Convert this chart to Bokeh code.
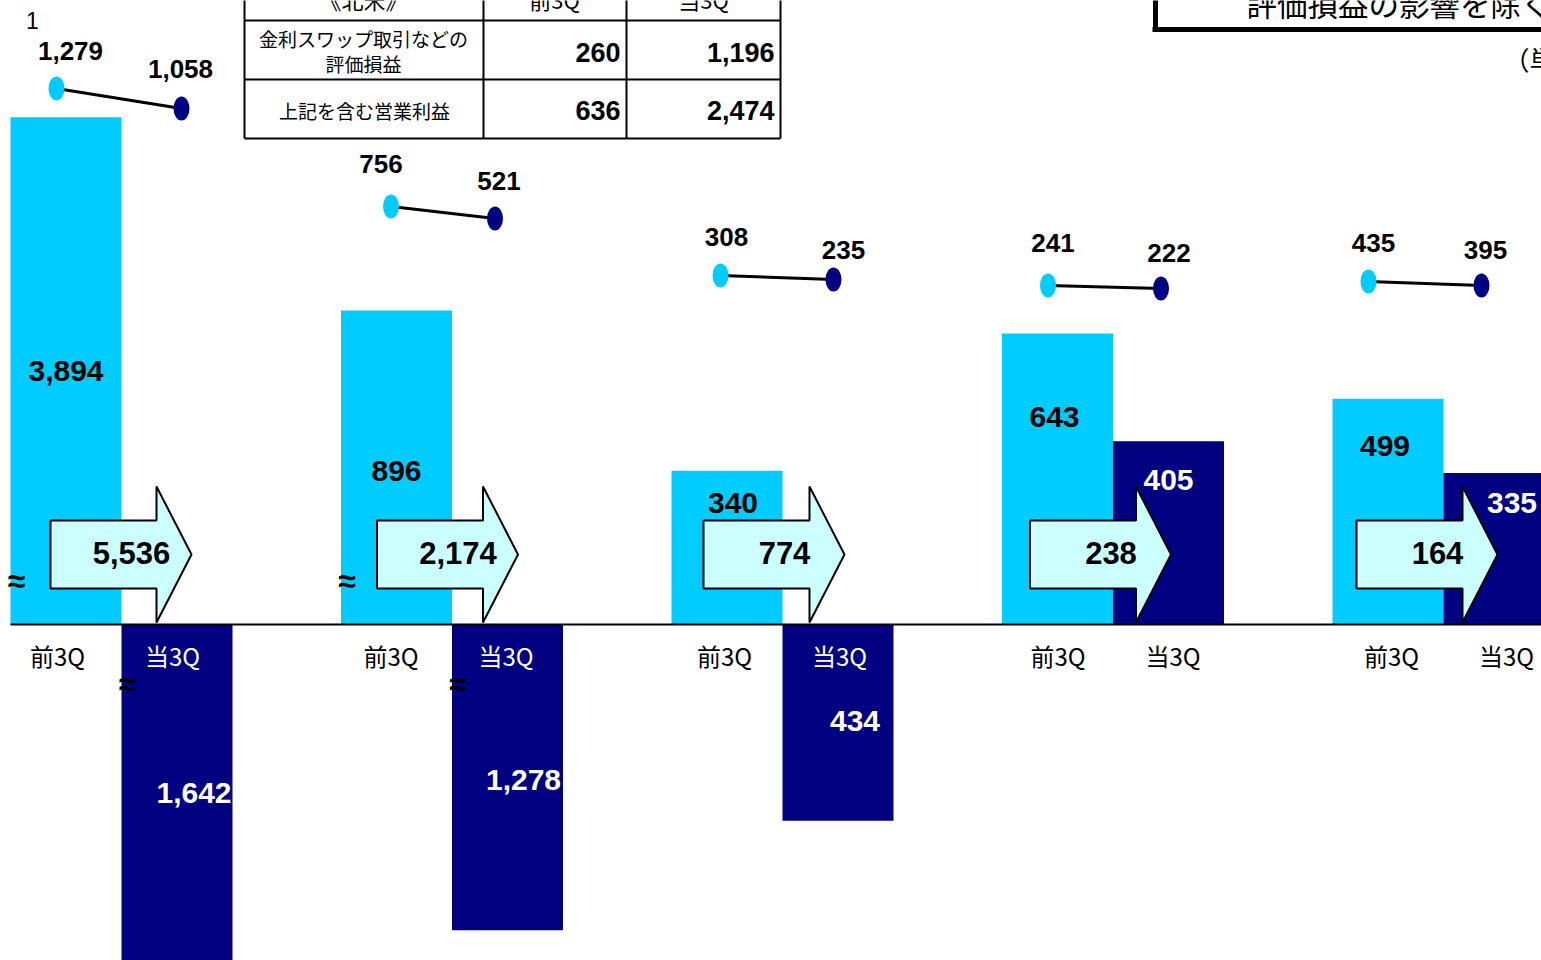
from bokeh.plotting import figure
from bokeh.models import Range1d
from bokeh.core.properties import value
from bokeh.embed import file_html
from bokeh.resources import INLINE

# ---------------- data ----------------
period_labels = ["前3Q", "当3Q"]
prev_3q = [3894, 896, 340, 643, 499]          # light bars
curr_3q = [-1642, -1278, -434, 405, 335]      # dark bars
change = [5536, 2174, 774, 238, 164]          # arrow values
prev_line = [1279, 756, 308, 241, 435]        # upper dot series (前3Q)
curr_line = [1058, 521, 235, 222, 395]        # upper dot series (当3Q)
# axis breaks (≈): value to which a broken bar is cut on the drawing
prev_cut = [1121, 694, None, None, None]
curr_cut = [-760, -676, None, None, None]

table_header = ["《北米》", "前3Q", "当3Q"]
table_row_labels = [["金利スワップ取引などの", "評価損益"], ["上記を含む営業利益"]]
table_prev = [260, 636]
table_curr = [1196, 2474]
box_title = "評価損益の影響を除く営業利益"
unit_note = "（単位：億円）"
footnote_mark = "1"

# ---------------- styles ----------------
LIGHT = "#00CCFF"
DARK = "#000080"
ARROW = "#CCFFFF"
NUM = value("Liberation Sans")
JP = value("Noto Sans CJK JP")

W, H = 1541, 960
UNITS_PER_PX = 2.2104
Y0_PX = 624
p = figure(width=W, height=H, x_range=Range1d(0, W),
           y_range=Range1d(-(H - Y0_PX) * UNITS_PER_PX, Y0_PX * UNITS_PER_PX),
           output_backend="svg", toolbar_location=None, min_border=0,
           x_axis_type=None, y_axis_type=None)
p.grid.visible = False
p.outline_line_color = None
p.background_fill_color = "white"
p.extra_y_ranges = {"px": Range1d(H, 0)}

n = len(prev_3q)
bound = [121 + 330.5 * i for i in range(n)]
BW = 111

def shown(v, cut):
    return v if cut is None else cut

prev_h = [shown(v, c) for v, c in zip(prev_3q, prev_cut)]
curr_h = [shown(v, c) for v, c in zip(curr_3q, curr_cut)]

p.vbar(x=[b - BW / 2 for b in bound], top=prev_h, bottom=0, width=BW,
       fill_color=LIGHT, line_color=None)
p.vbar(x=[b + BW / 2 for b in bound], top=curr_h, bottom=0, width=BW,
       fill_color=DARK, line_color=None)

# baseline
p.segment(x0=[10], y0=[0], x1=[W], y1=[0], line_color="black", line_width=2)

# arrows (px space)
arrow_left = [50 + 326.5 * i for i in range(n)]
xs, ys = [], []
for a in arrow_left:
    xs.append([a, a + 106, a + 106, a + 141, a + 106, a + 106, a])
    ys.append([520, 520, 486, 554, 622, 588, 588])
p.patches(xs, ys, fill_color=ARROW, line_color="black", line_width=2, y_range_name="px")
p.text(x=[a + 81 for a in arrow_left], y=[552] * n, text=[f"{v:,}" for v in change],
       text_font=NUM, text_font_style="bold", text_font_size="31px",
       text_align="center", text_baseline="middle", text_color="black", y_range_name="px")

# bar value labels
prev_frac = [0.5, 0.49, 0.79, 0.715, 0.79]
prev_dx = [0, 0, 6, -3, -3]
curr_frac = [0.49, 0.51, 0.49, 0.79, 0.8]
curr_dx = [17, 16, 17, 0, 13]
p.text(x=[b - BW / 2 + d for b, d in zip(bound, prev_dx)], y=[h * f for h, f in zip(prev_h, prev_frac)],
       text=[f"{v:,}" for v in prev_3q], text_font=NUM, text_font_style="bold",
       text_font_size="30px", text_align="center", text_baseline="middle", text_color="black")
p.text(x=[b + BW / 2 + d for b, d in zip(bound, curr_dx)], y=[h * f for h, f in zip(curr_h, curr_frac)],
       text=[f"{abs(v):,}" for v in curr_3q], text_font=NUM, text_font_style="bold",
       text_font_size="30px", text_align="center", text_baseline="middle", text_color="white")

# category labels
p.text(x=[57 + 333.5 * i for i in range(n)], y=[655] * n, text=[period_labels[0]] * n,
       text_font=JP, text_font_size="24px", text_align="center", text_baseline="middle",
       text_color="black", y_range_name="px")
p.text(x=[172 + 333.5 * i for i in range(n)], y=[655] * n, text=[period_labels[1]] * n,
       text_font=JP, text_font_size="24px", text_align="center", text_baseline="middle",
       text_color=["white" if v < 0 else "black" for v in curr_3q], y_range_name="px")

# break marks ≈
bx, by = [], []
for i in range(n):
    if prev_cut[i] is not None:
        bx.append(bound[i] - 105); by.append(580)
    if curr_cut[i] is not None:
        bx.append(bound[i] + 6); by.append(683)
p.text(x=bx, y=by, text=["≈"] * len(bx), text_font=NUM, text_font_style="bold",
       text_font_size="32px", text_align="center", text_baseline="middle",
       text_color="black", y_range_name="px")

# dot-line series: each group on its own scale
pts = [((1279, 88), (1058, 108)), ((756, 206), (521, 218)), ((308, 275), (235, 279)),
       ((241, 285), (222, 288)), ((435, 281), (395, 285))]
dot_dx = [(-65, 60), (-61, 43), (-62, 51), (-65, 48), (-75, 38)]
lab_dx = [(14, -1), (-10, 4), (6, 10), (5, 8), (5, 4)]
lab_dy = [(-38, -40), (-43, -38), (-39, -30), (-43, -36), (-39, -36)]
for i in range(n):
    (v1, p1), (v2, p2) = pts[i]
    u = (v1 - v2) / (p2 - p1)
    name = f"g{i}"
    p.extra_y_ranges[name] = Range1d(v1 - (H - p1) * u, v1 + p1 * u)
    dx = [bound[i] + dot_dx[i][0], bound[i] + dot_dx[i][1]]
    dy = [prev_line[i], curr_line[i]]
    p.line(dx, dy, line_color="black", line_width=3, y_range_name=name)
    p.ellipse(x=dx, y=dy, width=16, height=24, width_units="screen", height_units="screen",
              fill_color=[LIGHT, DARK], line_color=None, y_range_name=name)
    for k in range(2):
        p.text(x=[dx[k] + lab_dx[i][k]], y=[dy[k]], y_offset=lab_dy[i][k], text=[f"{dy[k]:,}"],
               text_font=NUM, text_font_style="bold", text_font_size="26px",
               text_align="center", text_baseline="middle", text_color="black", y_range_name=name)

# footnote mark
p.text(x=[32], y=[20], text=[footnote_mark], text_font=NUM, text_font_size="23px",
       text_align="center", text_baseline="middle", text_color="black", y_range_name="px")

# table
tx = [244, 483, 626, 780]
ty = [-40, 20, 79, 138]
p.segment(x0=[tx[0]] * 4, y0=ty, x1=[tx[-1]] * 4, y1=ty, line_color="black", line_width=2, y_range_name="px")
p.segment(x0=tx, y0=[ty[0]] * 4, x1=tx, y1=[ty[-1]] * 4, line_color="black", line_width=2, y_range_name="px")
p.text(x=[363, 554, 703], y=[-2, -2, -2], text=table_header, text_font=JP, text_font_size="22px",
       text_align="center", text_baseline="middle", text_color="black", y_range_name="px")
p.text(x=[363, 363, 364], y=[38, 63, 110], text=table_row_labels[0] + table_row_labels[1],
       text_font=JP, text_font_size="19px", text_align="center", text_baseline="middle",
       text_color="black", y_range_name="px")
p.text(x=[620, 620], y=[52, 110], text=[f"{v:,}" for v in table_prev], text_font=NUM,
       text_font_style="bold", text_font_size="27px", text_align="right", text_baseline="middle",
       text_color="black", y_range_name="px")
p.text(x=[774, 774], y=[52, 110], text=[f"{v:,}" for v in table_curr], text_font=NUM,
       text_font_style="bold", text_font_size="27px", text_align="right", text_baseline="middle",
       text_color="black", y_range_name="px")

# top-right box
p.segment(x0=[1155, 1152], y0=[-10, 29], x1=[1155, W + 10], y1=[31, 29],
          line_color="black", line_width=5, y_range_name="px")
p.text(x=[1246], y=[2], text=[box_title], text_font=JP, text_font_size="30.5px",
       text_align="left", text_baseline="middle", text_color="black", y_range_name="px")
p.text(x=[1503], y=[58], text=[unit_note], text_font=JP, text_font_size="26px",
       text_align="left", text_baseline="middle", text_color="black", y_range_name="px")

open("out.html", "w").write(file_html(p, INLINE))
